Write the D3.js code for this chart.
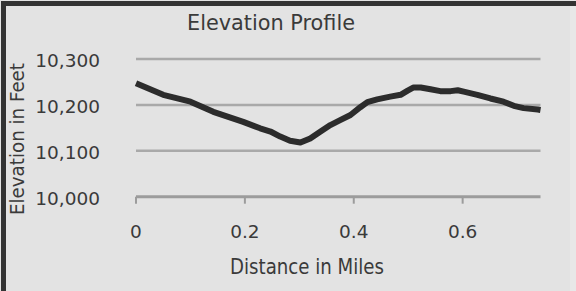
<!DOCTYPE html>
<html>
<head>
<meta charset="utf-8">
<script src="https://cdn.jsdelivr.net/npm/d3@7"></script>
<style>
html,body{margin:0;padding:0;background:#fff;}
svg{display:block;}
text{font-family:"DejaVu Sans",sans-serif;fill:#3a3a3a;}
</style>
</head>
<body>
<svg id="chart" width="576" height="291"></svg>
<script>
// Data
const distance = [0, 0.05, 0.1, 0.142, 0.197, 0.228, 0.247, 0.265, 0.283, 0.302, 0.32, 0.339, 0.357, 0.375, 0.394, 0.412, 0.425, 0.443, 0.467, 0.486, 0.499, 0.51, 0.523, 0.541, 0.559, 0.578, 0.591, 0.602, 0.627, 0.651, 0.675, 0.694, 0.712, 0.738, 0.743];
const elevation = [10247, 10222, 10207, 10185, 10163, 10149, 10142, 10131, 10122, 10118, 10127, 10142, 10156, 10167, 10178, 10195, 10206, 10212, 10218, 10222, 10231, 10238, 10238, 10234, 10230, 10230, 10232, 10229, 10222, 10214, 10207, 10198, 10193, 10190, 10189];
const yTicks = [10000, 10100, 10200, 10300];
const xTicks = [0, 0.2, 0.4, 0.6];
const title = "Elevation Profile";
const xTitle = "Distance in Miles";
const yTitle = "Elevation in Feet";

const svg = d3.select("#chart");
const W = 576, H = 291;

// background and frame
svg.append("rect").attr("x",0).attr("y",0).attr("width",W).attr("height",H).attr("fill","#e3e3e3");
svg.append("rect").attr("x",570).attr("y",0).attr("width",6).attr("height",H).attr("fill","#e8e8e8");
svg.append("rect").attr("x",1).attr("y",1).attr("width",W-1).attr("height",5).attr("fill","#333");
svg.append("rect").attr("x",1).attr("y",1).attr("width",5).attr("height",H-1).attr("fill","#333");

const x = d3.scaleLinear().domain([0, d3.max(distance)]).range([136, 540.5]);
const y = d3.scaleLinear().domain([10000, 10300]).range([196.7, 59]);

// gridlines
svg.append("g").selectAll("line").data(yTicks).join("line")
  .attr("x1", x.range()[0]).attr("x2", x.range()[1])
  .attr("y1", d => y(d)).attr("y2", d => y(d))
  .attr("stroke", d => d === 10000 ? "#9c9c9c" : "#a9a9a9")
  .attr("stroke-width", d => d === 10000 ? 3 : 2.5);

// x tick marks
svg.append("g").selectAll("line").data(xTicks).join("line")
  .attr("x1", d => x(d)).attr("x2", d => x(d))
  .attr("y1", y(10000)).attr("y2", y(10000) + 7)
  .attr("stroke", "#9c9c9c").attr("stroke-width", 2);

// y tick labels
const fmt = d3.format(",");
svg.append("g").selectAll("text").data(yTicks).join("text")
  .attr("x", 100).attr("y", d => y(d) + 8)
  .attr("text-anchor", "end")
  .style("font-size", "18.5px")
  .text(d => fmt(d));

// x tick labels
svg.append("g").selectAll("text").data(xTicks).join("text")
  .attr("x", d => x(d)).attr("y", 238)
  .attr("text-anchor", "middle")
  .style("font-size", "18.5px")
  .text(d => d === 0 ? "0" : d3.format(".1f")(d));

// line
const pts = distance.map((d, i) => [d, elevation[i]]);
svg.append("path").datum(pts)
  .attr("fill", "none")
  .attr("stroke", "#2c2c2c")
  .attr("stroke-width", 6)
  .attr("stroke-linejoin", "round")
  .attr("d", d3.line().x(d => x(d[0])).y(d => y(d[1])));

// titles
svg.append("text").attr("x", 271).attr("y", 30)
  .attr("text-anchor", "middle")
  .attr("textLength", 168).attr("lengthAdjust", "spacingAndGlyphs")
  .style("font-size", "22px").text(title);

svg.append("text").attr("x", 307).attr("y", 274)
  .attr("text-anchor", "middle")
  .attr("textLength", 154).attr("lengthAdjust", "spacingAndGlyphs")
  .style("font-size", "21px").text(xTitle);

svg.append("text")
  .attr("transform", "translate(24,139) rotate(-90)")
  .attr("text-anchor", "middle")
  .attr("textLength", 152).attr("lengthAdjust", "spacingAndGlyphs")
  .style("font-size", "20px").text(yTitle);
</script>
</body>
</html>
